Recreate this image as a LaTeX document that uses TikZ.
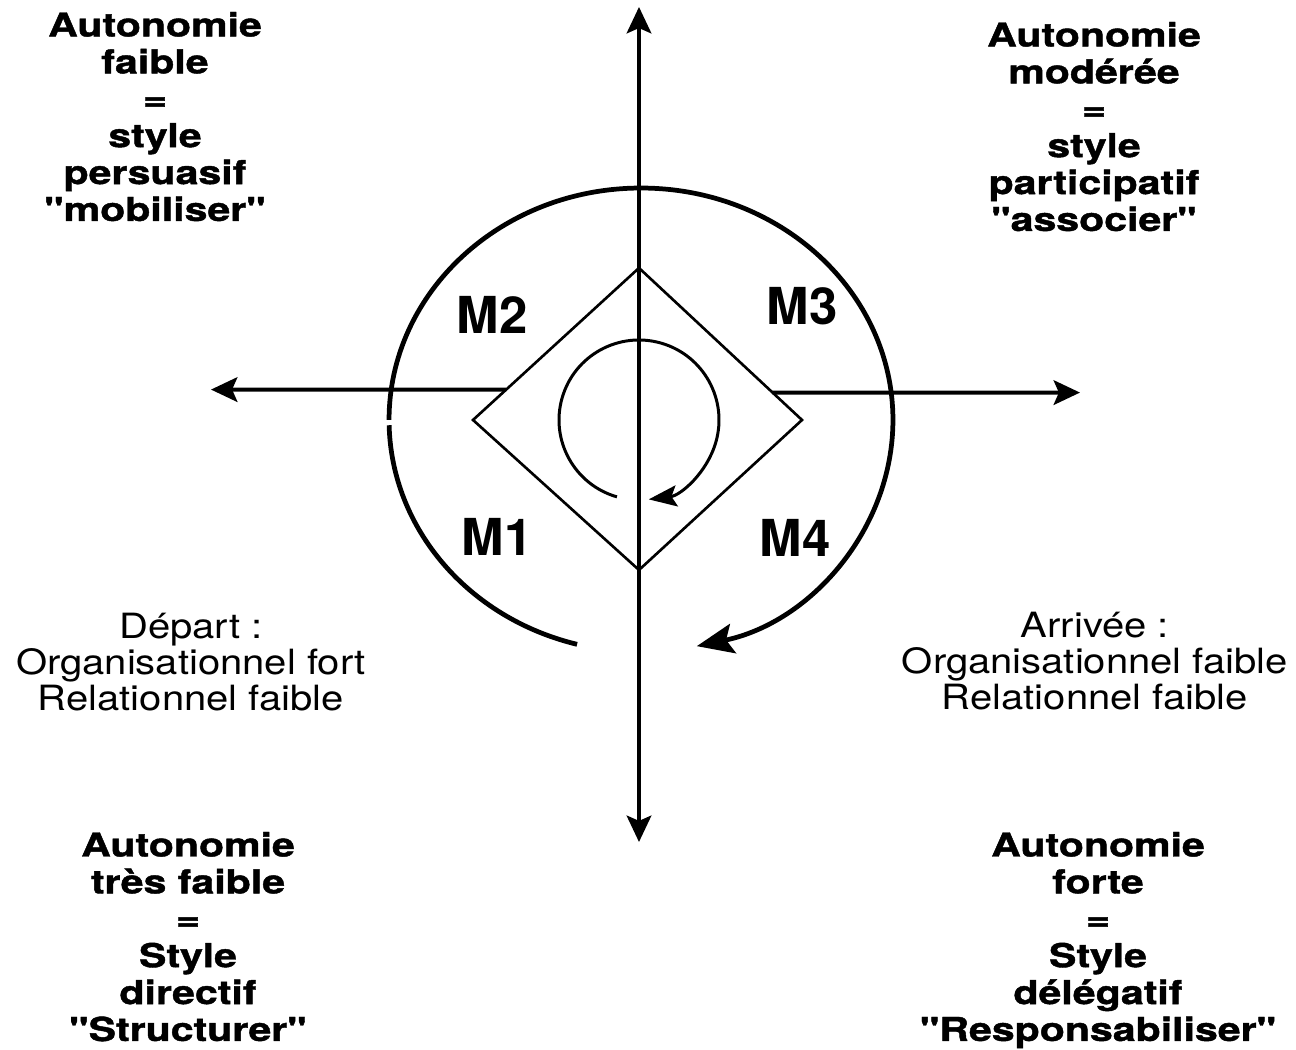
\documentclass[tikz,border=0pt]{standalone}
\usepackage{fontspec}
\setmainfont{TeX Gyre Heros}
\newfontfamily\blockfont{TeX Gyre Heros}[FakeStretch=1.25,Ligatures=TeXOff,BoldFeatures={FakeBold=1.3}]
\newfontfamily\notefont{TeX Gyre Heros}[FakeStretch=1.15,Ligatures=TeXOff]
\usetikzlibrary{arrows.meta}
\usetikzlibrary{calc}

\begin{document}
\begin{tikzpicture}[x=0.02cm, y=0.02cm,
    every node/.style={inner sep=0pt, outer sep=0pt},
    axis/.style={line width=2.2pt, -{Stealth[length=15pt, width=14pt, inset=3pt]}},
    axisboth/.style={line width=2.2pt, {Stealth[length=15pt, width=14pt, inset=3pt]}-{Stealth[length=15pt, width=14pt, inset=3pt]}},
    losange/.style={line width=1.5pt, line join=miter},
    cycle/.style={line width=2.7pt},
    loop/.style={line width=1.7pt},
    block/.style={align=center, anchor=north, font=\blockfont\bfseries\fontsize{18.7pt}{21pt}\selectfont},
    note/.style={align=center, anchor=north, font=\notefont\fontsize{19.8pt}{20.4pt}\selectfont},
    mlab/.style={font=\bfseries\fontsize{29pt}{34pt}\selectfont}]

    \useasboundingbox (0,0) rectangle (1296,1050);

    % axes
    \coordinate (north) at (639,1043);
    \coordinate (south) at (639,208);
    \coordinate (west) at (211,660.4);
    \coordinate (east) at (1080,657.4);

    % losange
    \coordinate (dtop) at (639,782);
    \coordinate (dbot) at (639,480);
    \coordinate (dleft) at (473,630);
    \coordinate (dright) at (802,630);
    \coordinate (pw) at ($(dleft)!0.2!(dtop)$);
    \coordinate (pe) at ($(dright)!0.18!(dtop)$);

    \draw[axisboth] (south) -- (north);
    \draw[axis] (pw) -- (west);
    \draw[axis] (pe) -- (east);
    \draw[losange] (dtop) -- (dright) -- (dbot) -- (dleft) -- cycle;

    % grand cycle
    \coordinate (depart) at ($(641,630)+(255.3:5.04cm and 4.64cm)$);
    \coordinate (gauche) at ($(641,630)+(180:5.04cm and 4.64cm)$);
    \draw[cycle] (depart) arc[start angle=255.3, end angle=181.3, x radius=5.04cm, y radius=4.64cm];
    \draw[cycle, -{Stealth[length=21pt, width=17pt, inset=4pt]}] (gauche) arc[start angle=180, end angle=-77.2, x radius=5.04cm, y radius=4.64cm];

    % petit cycle
    \coordinate (boucle) at ($(639,630)+(254:1.6cm)$);
    \draw[loop, -{Stealth[length=16pt, width=12pt, inset=3pt]}] (boucle) arc[start angle=254, end angle=-83, radius=1.6cm];

    \node[mlab] (m1) at (497,513) {M1};
    \node[mlab] (m2) at (492,735) {M2};
    \node[mlab] (m3) at (802,744) {M3};
    \node[mlab] (m4) at (795,512) {M4};

    \node[block] (faible) at (155,1038) {Autonomie\\faible\\=\\style\\persuasif\\"mobiliser"};
    \node[block] (moderee) at (1094,1028) {Autonomie\\modérée\\=\\style\\participatif\\"associer"};
    \node[block] (tresfaible) at (188,218) {Autonomie\\très faible\\=\\Style\\directif\\"Structurer"};
    \node[block] (forte) at (1098,218) {Autonomie\\forte\\=\\Style\\délégatif\\"Responsabiliser"};

    \node[note] (dep) at (191,437) {Départ :\\Organisationnel fort\\Relationnel faible};
    \node[note] (arr) at (1095,438) {Arrivée :\\Organisationnel faible\\Relationnel faible};

\end{tikzpicture}
\end{document}
